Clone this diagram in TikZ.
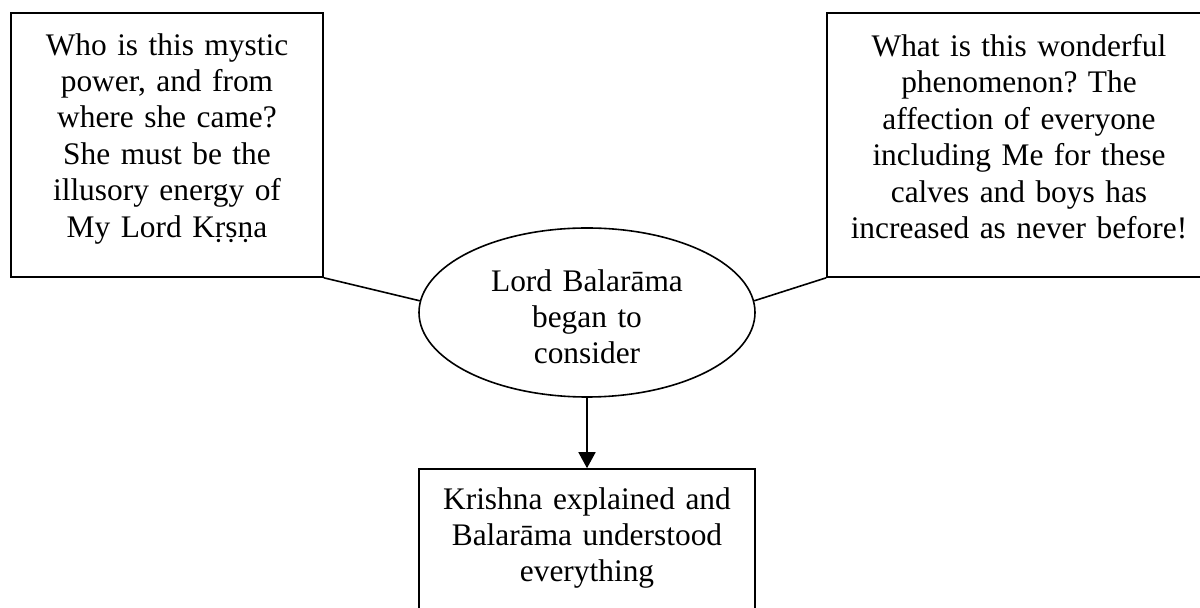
\documentclass[tikz,border=0pt]{standalone}
\usepackage{fontspec}
\setmainfont{Liberation Serif}
\usetikzlibrary{shapes.geometric,arrows.meta}
\frenchspacing

\begin{document}
\begin{tikzpicture}[x=0.5pt,y=-0.5pt,line width=0.8pt,
    box/.style={draw,rectangle,inner sep=0pt},
    oval/.style={draw,ellipse,inner sep=0pt,minimum width=168pt,minimum height=84.5pt},
    txt/.style={anchor=north,inner sep=0pt,align=center,
      font=\fontsize{15.7pt}{18.2pt}\selectfont}]
    \useasboundingbox (0,0) rectangle (1200,608);
    \fill[white] (0,0) rectangle (1200,608);
    % the two questions, the thought and the answer
    \node (who) [box,minimum width=156pt,minimum height=132pt] at (167,145) {};
    \node (what) [box,minimum width=192pt,minimum height=132pt] at (1019,145) {};
    \node (think) [oval] at (587,312.5) {};
    \node (answer) [box,minimum width=168pt,minimum height=80pt] at (587,549) {};
    \node (whotext) [txt,text width=150pt] at (167,32.6)
      {Who is this mystic\\ power, and from\\ where she came?\\ She must be the\\ illusory energy of\\ My Lord Kṛṣṇa};
    \node (whattext) [txt,text width=185pt] at (1019,33.6)
      {What is this wonderful\\ phenomenon? The\\ affection of everyone\\ including Me for these\\ calves and boys has\\ increased as never before!};
    \node (thinktext) [txt,text width=115pt] at (587,268.6)
      {Lord Balarāma\\ began to\\ consider};
    \node (answertext) [txt,text width=160pt] at (587,486.6)
      {Krishna explained and\\ Balarāma understood\\ everything};
    \draw (who.south east) -- (think.176);
    \draw (what.south west) -- (think.4);
    \draw[-{Triangle[length=8pt,width=8.5pt]}] (think.south) -- (answer.north);
  \end{tikzpicture}
\end{document}
